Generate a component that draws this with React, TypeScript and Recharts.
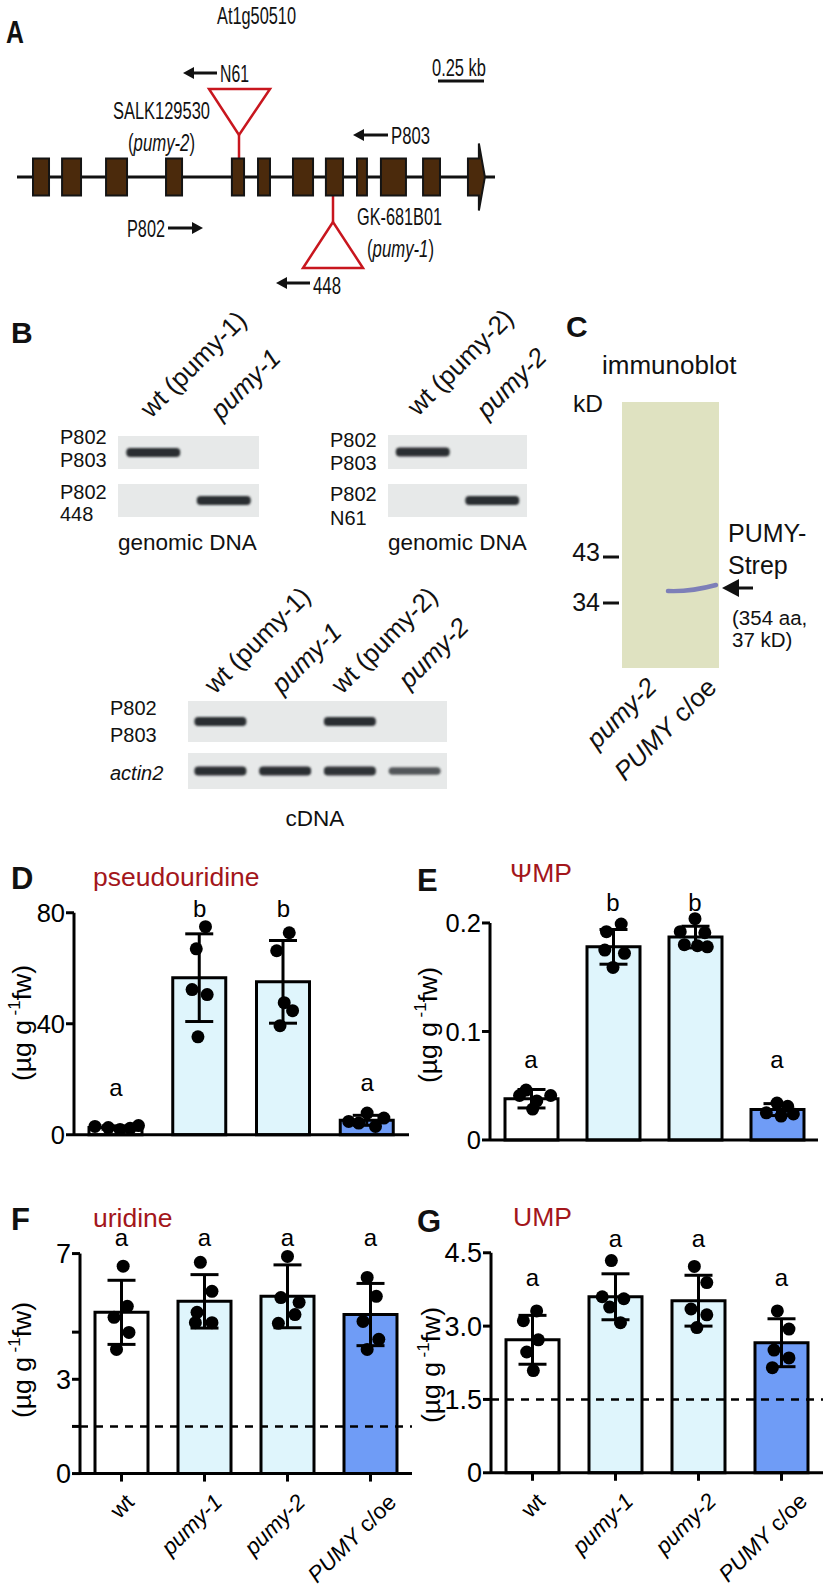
import React from 'react';
import {
  ComposedChart, Bar, Cell, ErrorBar, Scatter, XAxis, YAxis,
  ReferenceLine, ReferenceDot, ReferenceArea,
} from 'recharts';

const SANS = '"Liberation Sans", Arial, Helvetica, sans-serif';
const RED = '#c8161e';
const TITLE_RED = '#a3161b';

// gene model At1g50510, positions in bp from the left end of the drawn line
const geneLength = 2598;
const exons: [number, number][] = [
  [87, 174], [245, 348], [484, 598], [810, 897], [1168, 1234], [1310, 1375],
  [1500, 1609], [1679, 1772], [1848, 1902], [1978, 2114], [2207, 2299], [2451, 2543],
];

// gels: 1 = band, 0 = no band, in between = weaker band
const gel1Rows = [[1, 0], [0, 1]];
const gel2Rows = [[1, 0], [0, 1]];
const cdnaRows = [[1, 0, 1, 0], [1, 1, 0.95, 0.6]];

// groups in D-G
const groups = ['wt', 'pumy-1', 'pumy-2', 'PUMY c/oe'];
const barFills = ['#ffffff', '#dff5fc', '#dff5fc', '#6f9cf6'];

// D pseudouridine (µg g-1 fw); dots are [offset from group centre, value]
const pseudoMean = [2.6, 56.6, 55.1, 5.2];
const pseudoSd = [0.6, 15.8, 14.9, 1.8];
const pseudoDots = [
  [[-0.25, 3.0], [-0.09, 2.6], [0.05, 1.9], [0.17, 2.3], [0.27, 3.3]],
  [[0.07, 75], [-0.04, 67], [-0.09, 52.3], [0.09, 50.5], [-0.02, 35.3]],
  [[0.07, 72.8], [-0.08, 66.3], [0.01, 47.6], [0.11, 44.7], [-0.04, 39.3]],
  [[-0.22, 4.8], [-0.1, 4.2], [0.0, 7.8], [0.1, 3.0], [0.2, 6.0]],
];
const pseudoLetters: [string, number][] = [['a', 16.9], ['b', 81.5], ['b', 81.5], ['a', 18.7]];

// E ΨMP
const psiMean = [0.038, 0.178, 0.187, 0.028];
const psiSd = [0.0085, 0.016, 0.010, 0.0055];
const psiDots = [
  [[-0.06, 0.046], [0.24, 0.041], [-0.14, 0.041], [0.07, 0.036], [0.02, 0.0285]],
  [[0.1, 0.199], [-0.08, 0.192], [-0.1, 0.175], [0.14, 0.172], [0.0, 0.159]],
  [[0.0, 0.204], [-0.18, 0.192], [0.12, 0.191], [-0.13, 0.180], [0.03, 0.179], [0.15, 0.178]],
  [[0.0, 0.034], [0.13, 0.031], [-0.13, 0.025], [0.2, 0.024], [0.05, 0.022]],
];
const psiLetters: [string, number][] = [['a', 0.074], ['b', 0.219], ['b', 0.219], ['a', 0.074]];

// F uridine
const uriMean = [5.13, 5.48, 5.64, 5.06];
const uriSd = [1.02, 0.85, 1.0, 0.99];
const uriDots = [
  [[0.02, 6.6], [0.07, 5.32], [-0.09, 4.97], [0.09, 4.49], [-0.06, 3.95]],
  [[-0.05, 6.72], [0.09, 5.8], [-0.09, 5.13], [-0.11, 4.8], [0.09, 4.8]],
  [[0.0, 6.91], [-0.08, 5.6], [0.14, 5.45], [0.09, 5.06], [-0.11, 4.78]],
  [[-0.04, 6.24], [0.07, 5.64], [-0.09, 4.84], [0.1, 4.27], [-0.04, 3.95]],
];
const uriLetters: [string, number][] = [['a', 7.5], ['a', 7.5], ['a', 7.5], ['a', 7.5]];

// G UMP
const umpMean = [2.72, 3.6, 3.52, 2.66];
const umpSd = [0.5, 0.47, 0.52, 0.49];
const umpDots = [
  [[0.05, 3.31], [-0.11, 3.11], [0.07, 2.72], [-0.07, 2.47], [0.01, 2.09]],
  [[-0.05, 4.34], [-0.16, 3.6], [0.1, 3.56], [-0.07, 3.39], [0.06, 3.07]],
  [[-0.05, 4.22], [0.1, 3.89], [-0.09, 3.35], [0.1, 3.23], [-0.02, 2.97]],
  [[-0.05, 3.31], [0.09, 2.94], [-0.09, 2.51], [0.09, 2.35], [-0.11, 2.15]],
];
const umpLetters: [string, number][] = [['a', 4.0], ['a', 4.8], ['a', 4.8], ['a', 4.0]];

type PanelCfg = {
  letter: string; letterX: number; letterY: number;
  title: string; titleX: number; titleY: number;
  unitX: number; unitY: number;
  axisX: number; right: number; zeroY: number; topVal: number; topY: number; domainMax: number;
  ticks: number[]; tickLabels: string[]; tickFont: number;
  means: number[]; sds: number[]; dots: number[][][]; letters: [string, number][];
  dashed?: number; names: boolean;
};

const panels: PanelCfg[] = [
  {
    letter: 'D', letterX: 11, letterY: 878, title: 'pseudouridine', titleX: 93, titleY: 877,
    unitX: 22, unitY: 1023, axisX: 74, right: 409, zeroY: 1135, topVal: 80, topY: 913, domainMax: 90,
    ticks: [0, 40, 80], tickLabels: ['0', '40', '80'], tickFont: 25.5,
    means: pseudoMean, sds: pseudoSd, dots: pseudoDots, letters: pseudoLetters, names: false,
  },
  {
    letter: 'E', letterX: 417, letterY: 880, title: 'ΨMP', titleX: 510, titleY: 873,
    unitX: 428, unitY: 1025, axisX: 490, right: 818, zeroY: 1140, topVal: 0.2, topY: 923, domainMax: 0.235,
    ticks: [0, 0.1, 0.2], tickLabels: ['0', '0.1', '0.2'], tickFont: 25.5,
    means: psiMean, sds: psiSd, dots: psiDots, letters: psiLetters, names: false,
  },
  {
    letter: 'F', letterX: 11, letterY: 1219, title: 'uridine', titleX: 93, titleY: 1218,
    unitX: 22, unitY: 1360, axisX: 80, right: 412, zeroY: 1474, topVal: 7, topY: 1254, domainMax: 8.1,
    ticks: [0, 1.5, 3, 4.5, 6, 7], tickLabels: ['0', '', '3', '', '6', '7'], tickFont: 27,
    means: uriMean, sds: uriSd, dots: uriDots, letters: uriLetters, dashed: 1.5, names: true,
  },
  {
    letter: 'G', letterX: 417, letterY: 1221, title: 'UMP', titleX: 513, titleY: 1217,
    unitX: 431, unitY: 1365, axisX: 491, right: 823, zeroY: 1473, topVal: 4.5, topY: 1253, domainMax: 5.15,
    ticks: [0, 1.5, 3, 4.5], tickLabels: ['0', '1.5', '3.0', '4.5'], tickFont: 27,
    means: umpMean, sds: umpSd, dots: umpDots, letters: umpLetters, dashed: 1.5, names: true,
  },
];

const nameShift = [14, 19, 19, 27];

function NameTick(props: any) {
  const { x, y, payload, index } = props;
  const name: string = payload.value;
  const px = x + nameShift[index];
  const py = y + 20;
  let body: React.ReactNode = <tspan fontStyle="italic">{name}</tspan>;
  if (name === 'wt') body = 'wt';
  if (name === 'PUMY c/oe') body = <><tspan fontStyle="italic">PUMY</tspan> c/oe</>;
  return (
    <text x={px} y={py} textAnchor="end" fontSize={22.5} fill="#000" transform={`rotate(-45 ${px} ${py})`}>
      {body}
    </text>
  );
}

function BarPanel({ cfg }: { cfg: PanelCfg }) {
  const yAxisW = 70;
  const xAxisH = cfg.names ? 117 : 24;
  const plotW = cfg.right - cfg.axisX;
  const plotH = ((cfg.zeroY - cfg.topY) * cfg.domainMax) / cfg.topVal;
  const data = groups.map((g, i) => ({ name: g, mean: cfg.means[i], sd: cfg.sds[i] }));
  const points = cfg.dots.flatMap((set, i) => set.map(([dx, v]) => ({ x: i + dx, y: v })));
  return (
    <div style={{ position: 'absolute', left: cfg.axisX - yAxisW, top: cfg.zeroY - plotH }}>
      <ComposedChart
        width={yAxisW + plotW + 8}
        height={plotH + xAxisH}
        data={data}
        margin={{ top: 0, right: 8, bottom: 0, left: 0 }}
      >
        <XAxis
          xAxisId="cat"
          dataKey="name"
          type="category"
          interval={0}
          height={xAxisH}
          axisLine={{ stroke: '#000', strokeWidth: 3 }}
          tickLine={{ stroke: '#000', strokeWidth: 3 }}
          tickSize={8}
          tick={cfg.names ? <NameTick /> : false}
        />
        <XAxis xAxisId="num" dataKey="x" type="number" domain={[-0.5, 3.5]} hide />
        <YAxis
          width={yAxisW}
          type="number"
          domain={[0, cfg.domainMax]}
          ticks={cfg.ticks}
          tickFormatter={(v: number) => cfg.tickLabels[cfg.ticks.indexOf(v)] ?? ''}
          axisLine={false}
          tickLine={{ stroke: '#000', strokeWidth: 3 }}
          tickSize={8}
          tickMargin={1}
          tick={{ fill: '#000', fontSize: cfg.tickFont }}
        />
        <Bar xAxisId="cat" dataKey="mean" barSize={53} stroke="#000" strokeWidth={3} isAnimationActive={false}>
          {data.map((d, i) => (
            <Cell key={d.name} fill={barFills[i]} />
          ))}
          <ErrorBar dataKey="sd" width={14} stroke="#000" strokeWidth={3} direction="y" />
        </Bar>
        {cfg.dashed != null && (
          <ReferenceLine xAxisId="cat" y={cfg.dashed} stroke="#000" strokeWidth={2.5} strokeDasharray="8 7" />
        )}
        <Scatter
          xAxisId="num"
          data={points}
          dataKey="y"
          isAnimationActive={false}
          shape={(p: any) => <circle cx={p.cx} cy={p.cy} r={6.5} fill="#000" />}
        />
        <ReferenceLine
          xAxisId="num"
          segment={[{ x: -0.5, y: 0 }, { x: -0.5, y: cfg.topVal }]}
          stroke="#000"
          strokeWidth={3}
        />
        {cfg.letters.map(([t, v], i) => (
          <ReferenceDot
            key={i}
            xAxisId="num"
            x={i}
            y={v}
            r={1}
            fill="none"
            stroke="none"
            label={{ value: t, position: 'center', fontSize: 24, fill: '#000' }}
          />
        ))}
      </ComposedChart>
    </div>
  );
}

function ExonArrow(p: any) {
  const { x, y, width, height } = p;
  const head = 6;
  const mid = y + height / 2;
  const pts = [
    [x, y], [x + width - head, y], [x + width - head, y - 15], [x + width, mid],
    [x + width - head, y + height + 15], [x + width - head, y + height], [x, y + height],
  ].map((q) => q.join(',')).join(' ');
  return <polygon points={pts} fill="#4b2a0c" stroke="#141414" strokeWidth={2} />;
}

function GeneModel() {
  const mids = exons.map(([s, e]) => ({ pos: (s + e) / 2, y: 0 }));
  return (
    <div style={{ position: 'absolute', left: 17, top: 77 }}>
      <ComposedChart width={478} height={200} margin={{ top: 0, right: 0, bottom: 0, left: 0 }}>
        <XAxis type="number" dataKey="pos" domain={[0, geneLength]} allowDataOverflow hide />
        <YAxis type="number" domain={[-1, 1]} allowDataOverflow hide />
        <ReferenceArea x1={0} x2={geneLength} y1={-0.015} y2={0.015} fill="#111" fillOpacity={1} stroke="none" />
        {exons.map(([s, e], i) => (
          <ReferenceArea
            key={i}
            x1={s}
            x2={e}
            y1={-0.185}
            y2={0.185}
            fill="#4b2a0c"
            fillOpacity={1}
            stroke="#141414"
            strokeWidth={2}
            shape={i === exons.length - 1 ? ExonArrow : undefined}
          />
        ))}
        <Scatter data={mids} dataKey="y" isAnimationActive={false} shape={() => <g />} />
      </ComposedChart>
    </div>
  );
}

// condensed labels of panel A: regular face squeezed to the measured width
function NText({ x, y, w, em, children, size = 24 }: { x: number; y: number; w: number; em: number; children: React.ReactNode; size?: number }) {
  const sx = w / (em * size);
  return (
    <text transform={`translate(${x},${y}) scale(${sx.toFixed(3)},1)`} dy="0.36em" fontSize={size} fill="#111">
      {children}
    </text>
  );
}

function Arrow({ tail, tip, y, head = 11, half = 6 }: { tail: number; tip: number; y: number; head?: number; half?: number }) {
  const dir = tip > tail ? 1 : -1;
  const base = tip - dir * head;
  return (
    <g>
      <line x1={tail} y1={y} x2={base} y2={y} stroke="#111" strokeWidth={3} />
      <polygon points={`${tip},${y} ${base},${y - half} ${base},${y + half}`} fill="#111" />
    </g>
  );
}

function T({ x, y, size = 20, children, anchor = 'start', italic = false, bold = false }: any) {
  return (
    <text x={x} y={y} dy="0.35em" fontSize={size} textAnchor={anchor} fill="#111"
      fontStyle={italic ? 'italic' : 'normal'} fontWeight={bold ? 'bold' : 'normal'}>
      {children}
    </text>
  );
}

function RotLabel({ x, y, children, size = 26 }: any) {
  return (
    <text x={x} y={y} fontSize={size} fill="#111" transform={`rotate(-45 ${x} ${y})`}>
      {children}
    </text>
  );
}

function Gel({ x, w, rowsY, rowH, bands, bandHalf = 27, bandH = 9 }: any) {
  const lane = w / bands[0].length;
  return (
    <g>
      {bands.map((row: number[], r: number) => (
        <g key={r}>
          <rect x={x} y={rowsY[r]} width={w} height={rowH[r]} fill="#e7e9e9" />
          {row.map((v, i) =>
            v > 0 ? (
              <rect
                key={i}
                x={x + lane * (i + 0.5) - bandHalf}
                y={rowsY[r] + rowH[r] / 2 - (bandH * (0.6 + 0.4 * v)) / 2}
                width={bandHalf * 2}
                height={bandH * (0.6 + 0.4 * v)}
                rx={4}
                fill="#2b2f32"
                opacity={0.45 + 0.55 * v}
                filter="url(#soft)"
              />
            ) : null,
          )}
        </g>
      ))}
    </g>
  );
}

function UnitLabel({ x, y }: { x: number; y: number }) {
  return (
    <text transform={`translate(${x},${y}) rotate(-90)`} textAnchor="middle" dy="0.35em" fontSize={26.5} fill="#000">
      (µg g<tspan fontSize={17} dy={-11}> -1</tspan>
      <tspan dy={11}>fw)</tspan>
    </text>
  );
}

function Overlay() {
  return (
    <svg width={826} height={1592} style={{ position: 'absolute', left: 0, top: 0 }} fontFamily={SANS}>
      <defs>
        <filter id="soft" x="-10%" y="-50%" width="120%" height="200%">
          <feGaussianBlur stdDeviation="0.9" />
        </filter>
      </defs>

      {/* A: gene model annotations */}
      <text transform="translate(6,32) scale(0.8,1)" dy="0.36em" fontWeight="bold" fontSize={31} fill="#111">A</text>
      <NText x={217} y={15} w={79} em={4.837}>At1g50510</NText>
      <NText x={432} y={67} w={54} em={3.28}>0.25 kb</NText>
      <line x1={438} y1={81} x2={484} y2={81} stroke="#111" strokeWidth={3} />
      <Arrow tail={217} tip={183} y={73} />
      <NText x={220} y={73} w={29} em={1.834}>N61</NText>
      <NText x={113} y={110} w={97} em={5.893}>SALK129530</NText>
      <NText x={128} y={142} w={67} em={4.0}>(<tspan fontStyle="italic">pumy-2</tspan>)</NText>
      <polygon points="209,89 270,89 239,135" fill="#fff" stroke={RED} strokeWidth={2.5} />
      <line x1={239} y1={135} x2={239} y2={159} stroke={RED} strokeWidth={2.5} />
      <Arrow tail={388} tip={353} y={135} />
      <NText x={391} y={135} w={39} em={2.335}>P803</NText>
      <NText x={127} y={228} w={38} em={2.335}>P802</NText>
      <Arrow tail={168} tip={203} y={228} />
      <line x1={333} y1={196} x2={333} y2={222} stroke={RED} strokeWidth={2.5} />
      <polygon points="333,222 303,268 363,268" fill="#fff" stroke={RED} strokeWidth={2.5} />
      <NText x={357} y={216} w={85} em={5.225}>GK-681B01</NText>
      <NText x={367} y={248} w={67} em={4.0}>(<tspan fontStyle="italic">pumy-1</tspan>)</NText>
      <Arrow tail={310} tip={276} y={283} />
      <NText x={313} y={285} w={28} em={1.668}>448</NText>

      {/* B: genomic PCR */}
      <T x={11} y={332} size={30} bold>B</T>
      <RotLabel x={151} y={419}>wt (pumy-1)</RotLabel>
      <RotLabel x={221} y={421}><tspan fontStyle="italic">pumy-1</tspan></RotLabel>
      <Gel x={118} w={141} rowsY={[436, 484]} rowH={[33, 33]} bands={gel1Rows} />
      <T x={60} y={437}>P802</T>
      <T x={60} y={460}>P803</T>
      <T x={60} y={492}>P802</T>
      <T x={60} y={514}>448</T>
      <T x={118} y={542} size={22.5}>genomic DNA</T>

      <RotLabel x={418} y={417}>wt (pumy-2)</RotLabel>
      <RotLabel x={487} y={420}><tspan fontStyle="italic">pumy-2</tspan></RotLabel>
      <Gel x={388} w={139} rowsY={[435, 484]} rowH={[34, 33]} bands={gel2Rows} />
      <T x={330} y={440}>P802</T>
      <T x={330} y={463}>P803</T>
      <T x={330} y={494}>P802</T>
      <T x={330} y={518}>N61</T>
      <T x={388} y={542} size={22.5}>genomic DNA</T>

      {/* B: cDNA */}
      <RotLabel x={215} y={695}>wt (pumy-1)</RotLabel>
      <RotLabel x={282} y={695}><tspan fontStyle="italic">pumy-1</tspan></RotLabel>
      <RotLabel x={342} y={695}>wt (pumy-2)</RotLabel>
      <RotLabel x={409} y={690}><tspan fontStyle="italic">pumy-2</tspan></RotLabel>
      <Gel x={188} w={259} rowsY={[701, 753]} rowH={[41, 36]} bands={cdnaRows} bandHalf={26} />
      <T x={110} y={708}>P802</T>
      <T x={110} y={735}>P803</T>
      <T x={110} y={773} italic>actin2</T>
      <T x={315} y={818} size={22.5} anchor="middle">cDNA</T>

      {/* C: immunoblot */}
      <T x={566} y={326} size={30} bold>C</T>
      <T x={602} y={365} size={26}>immunoblot</T>
      <T x={573} y={403} size={24.5}>kD</T>
      <rect x={622} y={402} width={97} height={266} fill="#dfe2c1" />
      <path d="M668,591 Q690,592 716,585" stroke="#7d7fb8" strokeWidth={4.5} fill="none" strokeLinecap="round" />
      <T x={600} y={552} size={25} anchor="end">43</T>
      <line x1={603} y1={557} x2={619} y2={557} stroke="#111" strokeWidth={3} />
      <T x={600} y={602} size={25} anchor="end">34</T>
      <line x1={603} y1={603} x2={619} y2={603} stroke="#111" strokeWidth={3} />
      <Arrow tail={753} tip={722} y={588} head={17} half={9} />
      <T x={728} y={533} size={25}>PUMY-</T>
      <T x={728} y={565} size={25}>Strep</T>
      <T x={732} y={618} size={20.5}>(354 aa,</T>
      <T x={732} y={640} size={20.5}>37 kD)</T>
      <RotLabel x={597} y={750}><tspan fontStyle="italic">pumy-2</tspan></RotLabel>
      <RotLabel x={625} y={782}><tspan fontStyle="italic">PUMY</tspan> c/oe</RotLabel>

      {/* D-G headers and unit labels */}
      {panels.map((p) => (
        <g key={p.letter}>
          <T x={p.letterX} y={p.letterY} size={31} bold>{p.letter}</T>
          <text x={p.titleX} y={p.titleY} dy="0.35em" fontSize={26.5} fill={TITLE_RED}>{p.title}</text>
          <UnitLabel x={p.unitX} y={p.unitY} />
        </g>
      ))}
    </svg>
  );
}

export default function App() {
  return (
    <div
      style={{
        position: 'absolute', left: 0, top: 0, width: 826, height: 1592,
        background: '#fff', fontFamily: SANS, overflow: 'hidden',
      }}
    >
      <Overlay />
      <GeneModel />
      {panels.map((p) => (
        <BarPanel key={p.letter} cfg={p} />
      ))}
    </div>
  );
}
